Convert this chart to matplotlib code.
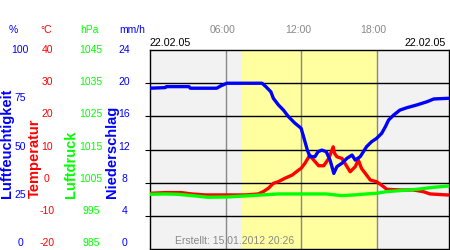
import matplotlib
matplotlib.use("Agg")
import matplotlib.pyplot as plt

plt.rcParams['font.family'] = ['Liberation Sans', 'DejaVu Sans']

# Luftfeuchtigkeit (%) - Stunde / Wert
hum_h = [0.0, 1.2, 1.3, 3.1, 3.2, 5.3, 5.6, 6.1, 8.9, 9.2, 9.6, 9.8, 10.2, 10.6, 11.0,
         11.5, 12.0, 12.2, 12.5, 12.7, 13.1, 13.35, 13.65, 14.0, 14.3, 14.45, 14.6,
         14.85, 15.25, 15.65, 16.05, 16.3, 16.7, 16.95, 17.2, 17.6, 18.0, 18.4, 18.7,
         18.95, 19.35, 19.85, 20.4, 21.2, 22.0, 22.55, 23.6, 23.75]
hum = [80.8, 81.1, 81.6, 81.6, 80.8, 80.8, 81.9, 83.3, 83.3, 81.6, 79.0, 75.7, 72.4,
       69.8, 66.5, 63.3, 60.7, 56.4, 49.7, 46.4, 46.4, 48.9, 49.7, 48.9, 44.7, 41.4,
       38.0, 41.4, 43.1, 45.6, 47.2, 44.7, 46.4, 48.9, 51.4, 53.9, 55.6, 58.1, 61.5,
       64.8, 67.3, 69.8, 71.0, 72.4, 74.0, 75.4, 75.7, 75.7]

# Temperatur (°C)
temp_h = [0.0, 1.2, 2.5, 3.3, 4.4, 7.6, 8.6, 9.0, 9.4, 9.8, 10.2, 10.7, 11.3, 11.8,
          12.0, 12.3, 12.7, 13.0, 13.4, 13.8, 14.2, 14.55, 14.65, 14.85, 15.25, 15.65,
          15.9, 16.3, 16.55, 16.8, 17.2, 17.5, 18.0, 18.55, 18.8, 19.85, 20.9, 21.7,
          22.25, 23.6, 23.75]
temp = [-3.2, -3.0, -3.0, -3.4, -3.7, -3.7, -3.4, -2.7, -1.7, -0.2, 0.3, 1.3, 2.3, 3.8,
        4.3, 5.8, 8.3, 6.8, 5.1, 5.1, 7.3, 10.8, 8.9, 7.8, 7.3, 4.8, 3.3, 4.8, 6.8, 4.3,
        2.3, 0.8, 0.3, -1.2, -2.0, -2.2, -2.2, -2.7, -3.4, -3.7, -3.7]

# Luftdruck (hPa)
pres_h = [0.0, 1.2, 2.2, 3.6, 4.6, 6.2, 7.6, 8.9, 10.2, 12.3, 14.0, 15.2, 16.2, 17.2,
          18.0, 18.8, 19.85, 21.2, 22.5, 23.75]
pres = [1001.5, 1001.6, 1001.5, 1001.0, 1000.6, 1000.7, 1001.0, 1001.3, 1001.6, 1001.6,
        1001.6, 1001.1, 1001.3, 1001.6, 1001.8, 1002.3, 1002.6, 1003.0, 1003.6, 1004.0]

hum_ticks = ["100", "75", "50", "25", "0"]
temp_ticks = ["40", "30", "20", "10", "0", "-10", "-20"]
pres_ticks = ["1045", "1035", "1025", "1015", "1005", "995", "985"]
rain_ticks = ["24", "20", "16", "12", "8", "4", "0"]
time_ticks = [6, 12, 18]
time_labels = ["06:00", "12:00", "18:00"]
day_start, day_end = 7.3, 18.0

W, H = 450, 250
fig = plt.figure(figsize=(4.5, 2.5), dpi=100)
fig.patch.set_facecolor('white')

def fx(x):
    return x / W

def fy(y):
    return 1 - y / H

ax = fig.add_axes([fx(150), fy(249), 299 / W, 199 / H])
ax.set_facecolor('#f2f2f2')
ax.set_xlim(0, 23.75)
ax.set_ylim(-20, 40)
ax.axvspan(day_start, day_end, color='#ffffa0', lw=0, zorder=0.5)
ax.set_yticks([-10, 0, 10, 20, 30])
ax.set_xticks([])
ax.grid(axis='y', color='black', lw=1)
for t in time_ticks:
    ax.axvline(t, color='#888888', lw=1, zorder=1.5)
ax.tick_params(left=False, labelleft=False)
for s in ax.spines.values():
    s.set_color('black')
    s.set_linewidth(1)

ax.plot(temp_h, temp, color='#ff0000', lw=2.4, solid_capstyle='butt', zorder=3)

ax_p = ax.twinx()
ax_p.set_ylim(985, 1045)
ax_p.plot(pres_h, pres, color='#00ff00', lw=2.4, solid_capstyle='butt')
ax_p.axis('off')

ax_h = ax.twinx()
ax_h.set_ylim(0, 100)
ax_h.plot(hum_h, hum, color='#0000ff', lw=2.4, solid_capstyle='butt')
ax_h.axis('off')

fs = 7.5
# Kopfzeile der Achsen
fig.text(fx(13.5), fy(30), "%", color='#0000ff', fontsize=fs, ha='center', va='center')
fig.text(fx(46.5), fy(30), "°C", color='#ff0000', fontsize=fs, ha='center', va='center')
fig.text(fx(89.5), fy(30), "hPa", color='#00ff00', fontsize=fs, ha='center', va='center')
fig.text(fx(132), fy(30), "mm/h", color='#0000ff', fontsize=fs, ha='center', va='center')

for i, lab in enumerate(hum_ticks):
    fig.text(fx(20), fy(50 + i * 193 / 4), lab, color='#0000ff', fontsize=fs,
             ha='center', va='center')
for i, lab in enumerate(temp_ticks):
    fig.text(fx(47), fy(50 + i * 193 / 6), lab, color='#ff0000', fontsize=fs,
             ha='center', va='center')
for i, lab in enumerate(pres_ticks):
    fig.text(fx(91), fy(50 + i * 193 / 6), lab, color='#00ff00', fontsize=fs,
             ha='center', va='center')
for i, lab in enumerate(rain_ticks):
    fig.text(fx(124.5), fy(50 + i * 193 / 6), lab, color='#0000ff', fontsize=fs,
             ha='center', va='center')

# senkrechte Titel
fig.text(fx(7.5), fy(198), "Luftfeuchtigkeit", color='#0000ff', fontsize=10.5,
         fontweight='bold', rotation=90, ha='center', va='bottom')
fig.text(fx(34.5), fy(198), "Temperatur", color='#ff0000', fontsize=10.5,
         fontweight='bold', rotation=90, ha='center', va='bottom')
fig.text(fx(71.5), fy(198), "Luftdruck", color='#00ff00', fontsize=10.5,
         fontweight='bold', rotation=90, ha='center', va='bottom')
fig.text(fx(112.5), fy(198), "Niederschlag", color='#0000ff', fontsize=10.5,
         fontweight='bold', rotation=90, ha='center', va='bottom')

for t, lab in zip(time_ticks, time_labels):
    fig.text(fx(150 + (t - 0.25) * 12.6), fy(30), lab, color='#888888', fontsize=fs,
             ha='center', va='center')

fig.text(fx(150), fy(43), "22.02.05", color='black', fontsize=7.7, ha='left', va='center')
fig.text(fx(446), fy(43), "22.02.05", color='black', fontsize=7.7, ha='right', va='center')
fig.text(fx(175), fy(240.5), "Erstellt: 15.01.2012 20:26", color='#888888', fontsize=fs,
         ha='left', va='center')

fig.savefig("out.png", dpi=100)
